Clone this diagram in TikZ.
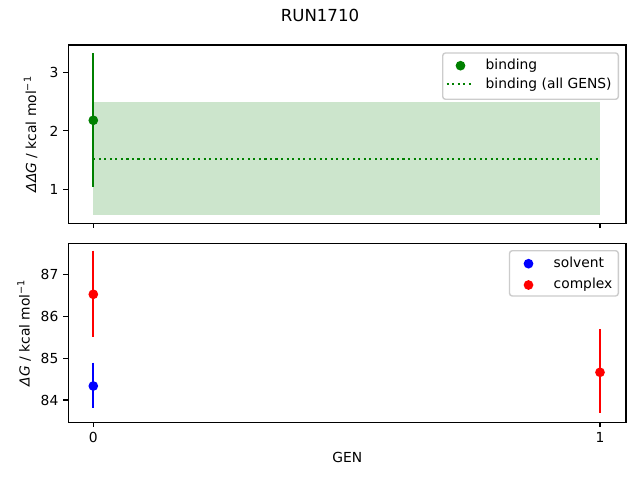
\documentclass[tikz,border=0pt]{standalone}
\usepackage{fontspec}
\setmainfont{DejaVu Sans}
\definecolor{mplgreen}{RGB}{0,128,0}
\definecolor{mplblue}{RGB}{0,0,255}
\definecolor{mplred}{RGB}{255,0,0}
\definecolor{legendedge}{RGB}{204,204,204}
\newcommand{\ylabtext}[1]{\textit{#1} / kcal mol\textsuperscript{\fontsize{7}{8}\selectfont −1}}
\begin{document}
\begin{tikzpicture}[x=0.72bp,y=-0.72bp,
  axisline/.style={line width=0.8bp,black},
  tickmark/.style={line width=0.8bp,black},
  ticklab/.style={font=\fontsize{10}{12}\selectfont,inner sep=0,text=black},
  errbar/.style={line width=1.5bp},
  dotmark/.style={circle,inner sep=0,minimum size=7bp,draw=none},
  legbox/.style={draw=legendedge,fill=white,fill opacity=0.8,draw opacity=1,rounded corners=2bp,line width=1bp},
  legtext/.style={font=\fontsize{10}{12}\selectfont,inner sep=0,anchor=base west,text=black},
  dottedline/.style={line width=1.5bp,dash pattern=on 1.5bp off 2.475bp}
]
\useasboundingbox (0,0) rectangle (640,480);
\fill[white] (0,0) rectangle (640,480);

% title
\node[font=\fontsize{12}{14}\selectfont,inner sep=0,anchor=base,text=black] (title) at (320,21.6) {RUN1710};

% ================= top axes =================
\fill[mplgreen,fill opacity=0.2] (93.3,101.7) rectangle (600,215);
\draw[mplgreen,dottedline] (93.3,158.7) -- (600,158.7);
\draw[mplgreen,errbar] (93.3,53.3) -- (93.3,186.7);
\node[dotmark,fill=mplgreen] (bind0) at (93.3,120.3) {};
\draw[axisline] (68.3,45) rectangle (626,223.3);
\foreach \yy/\lab [count=\i] in {72.3/3,130.9/2,189.5/1}{
  \draw[tickmark] (68.3,\yy) -- (63.4,\yy);
  \node[ticklab,anchor=east] (ttop\i) at (58.6,\yy) {\lab};
}
\foreach \xx in {93.3,600}{
  \draw[tickmark] (\xx,223.3) -- (\xx,228.2);
}
\node[rotate=90,anchor=base,inner sep=0,font=\fontsize{10}{12}\selectfont,text=black] (ylabtop) at (36,134.2) {\ylabtext{ΔΔG}};

% legend top
\draw[legbox] (442.7,53) rectangle (618.3,99.3);
\node[dotmark,fill=mplgreen] (legbind) at (460.5,65.7) {};
\draw[mplgreen,dottedline] (446.7,83.7) -- (474.3,83.7);
\node[legtext] (legbindtxt) at (485.4,69.2) {binding};
\node[legtext] (legalltxt) at (485.4,88.3) {binding (all GENS)};

% ================= bottom axes =================
\draw[mplblue,errbar] (93.3,362.7) -- (93.3,407.7);
\draw[mplred,errbar] (93.3,250.7) -- (93.3,336.7);
\draw[mplred,errbar] (600,329.3) -- (600,413.3);
\node[dotmark,fill=mplblue] (solv0) at (93.3,386) {};
\node[dotmark,fill=mplred] (comp0) at (93.3,294.3) {};
\node[dotmark,fill=mplred] (comp1) at (600,372.3) {};
\draw[axisline] (68.3,243.3) rectangle (626,422.3);
\foreach \yy/\lab [count=\i] in {274.3/87,316.2/86,358.1/85,400/84}{
  \draw[tickmark] (68.3,\yy) -- (63.4,\yy);
  \node[ticklab,anchor=east] (tbot\i) at (58.6,\yy) {\lab};
}
\foreach \xx/\lab [count=\i] in {93.3/0,600/1}{
  \draw[tickmark] (\xx,422.3) -- (\xx,427.2);
  \node[ticklab,anchor=base] (tx\i) at (\xx,442.2) {\lab};
}
\node[rotate=90,anchor=base,inner sep=0,font=\fontsize{10}{12}\selectfont,text=black] (ylabbot) at (29.5,332.8) {\ylabtext{ΔG}};
\node[ticklab,anchor=base] (xlab) at (347.2,462) {GEN};

% legend bottom
\draw[legbox] (509.5,250.7) rectangle (618.3,296);
\node[dotmark,fill=mplblue] (legsolv) at (528.5,263.7) {};
\node[dotmark,fill=mplred] (legcomp) at (528.5,285) {};
\node[legtext] (legsolvtxt) at (553.4,267.2) {solvent};
\node[legtext] (legcomptxt) at (553.4,288.3) {complex};
\end{tikzpicture}
\end{document}
